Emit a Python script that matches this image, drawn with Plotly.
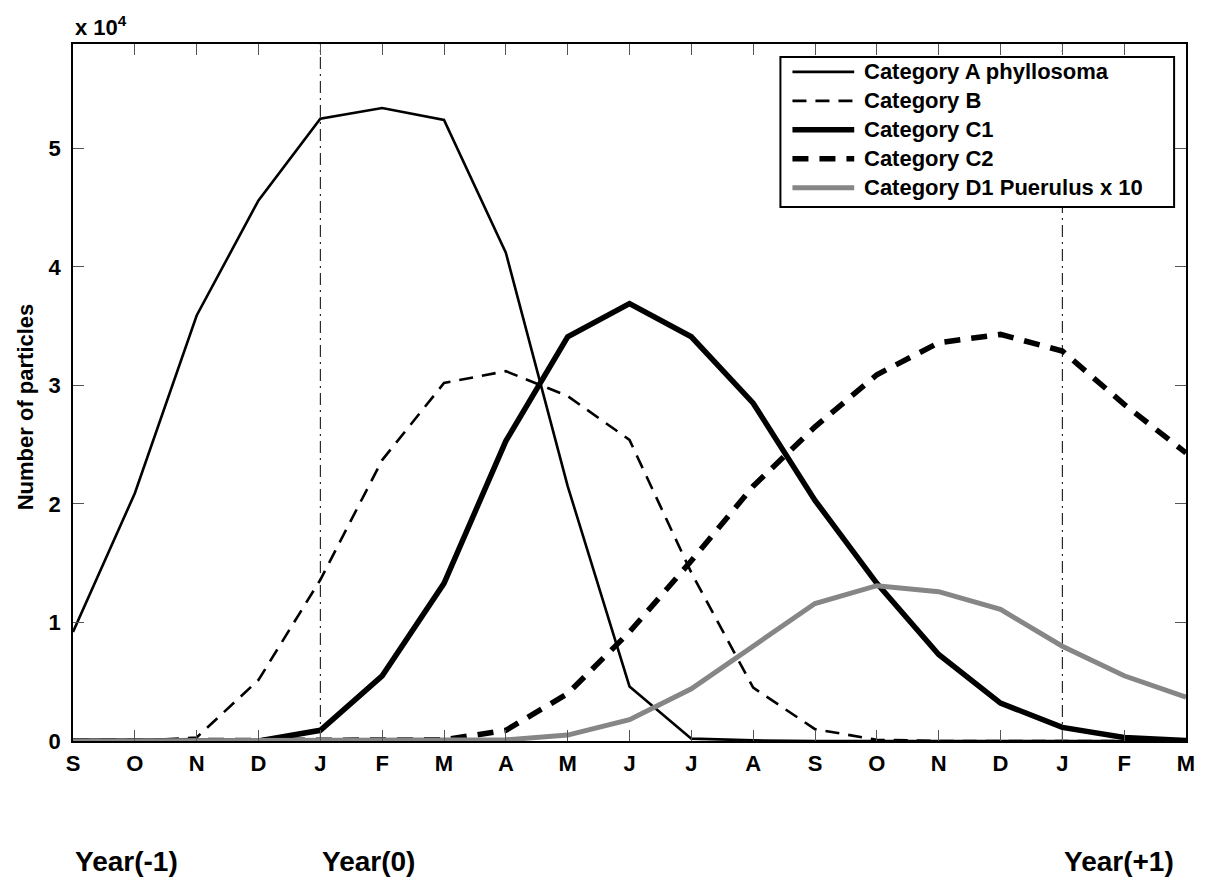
import plotly.graph_objects as go

# Month labels along the x axis (Sep of Year(-1) through Mar of Year(+1))
months = ["S", "O", "N", "D", "J", "F", "M", "A", "M", "J",
          "J", "A", "S", "O", "N", "D", "J", "F", "M"]

# Number of particles, in units of 10^4
cat_a = [0.92, 2.09, 3.59, 4.56, 5.25, 5.34, 5.24, 4.12, 2.15, 0.46,
         0.02, 0.005, 0, 0, 0, 0, 0, 0, 0]
cat_b = [0, 0, 0.03, 0.515, 1.36, 2.37, 3.02, 3.12, 2.91, 2.54,
         1.42, 0.45, 0.10, 0.01, 0, 0, 0, 0, 0]
cat_c1 = [0, 0, 0, 0, 0.09, 0.55, 1.33, 2.53, 3.41, 3.69,
          3.41, 2.85, 2.03, 1.33, 0.73, 0.32, 0.115, 0.03, 0.005]
cat_c2 = [0, 0, 0, 0, 0, 0, 0.01, 0.09, 0.40, 0.92,
          1.52, 2.15, 2.65, 3.09, 3.36, 3.43, 3.29, 2.84, 2.43]
cat_d1 = [0, 0, 0, 0, 0, 0, 0, 0.01, 0.05, 0.18,
          0.44, 0.80, 1.16, 1.31, 1.26, 1.11, 0.80, 0.55, 0.37]

series_names = ["Category A phyllosoma", "Category B", "Category C1",
                "Category C2", "Category D1 Puerulus x 10"]

# Year boundaries (January positions) and the year captions
year_labels = ["Year(-1)", "Year(0)", "Year(+1)"]
year_positions = [0, 4, 16]
january_lines = [4, 16]

y_ticks = [0, 1, 2, 3, 4, 5]

FONT = "Liberation Sans, Arial, sans-serif"

x = list(range(len(months)))
styles = [
    dict(color="black", width=2.6, dash="solid"),
    dict(color="black", width=2.6, dash="14px,9px"),
    dict(color="black", width=5.5, dash="solid"),
    dict(color="black", width=5.5, dash="16px,11px"),
    dict(color="#868686", width=5, dash="solid"),
]
data = [cat_a, cat_b, cat_c1, cat_c2, cat_d1]

fig = go.Figure()
for name, ys, st in zip(series_names, data, styles):
    fig.add_trace(go.Scatter(x=x, y=ys, mode="lines", name=name,
                             line=st, showlegend=False))

shapes = []
for xv in january_lines:
    shapes.append(dict(type="line", xref="x", yref="paper", x0=xv, x1=xv,
                       y0=0, y1=1, line=dict(color="black", width=1,
                                             dash="12px,5px,2px,5px"),
                       layer="below"))

annotations = []

# Legend box drawn in paper coordinates
lg_x0, lg_x1 = 0.6356, 0.9893
lg_y0, lg_y1 = 0.7662, 0.9813
shapes.append(dict(type="rect", xref="paper", yref="paper",
                   x0=lg_x0, x1=lg_x1, y0=lg_y0, y1=lg_y1,
                   line=dict(color="black", width=2), fillcolor="white",
                   layer="above"))
row_top = 0.960
row_step = 0.0416
for i, (name, st) in enumerate(zip(series_names, styles)):
    yy = row_top - i * row_step
    shapes.append(dict(type="line", xref="paper", yref="paper",
                       x0=0.6464, x1=0.7019, y0=yy, y1=yy,
                       line=st, layer="above"))
    annotations.append(dict(xref="paper", yref="paper", x=0.7085, y=yy,
                            text=name, showarrow=False, xanchor="left",
                            yanchor="middle",
                            font=dict(family=FONT, size=22, color="black",
                                      weight="bold")))

# Exponent label above the y axis
annotations.append(dict(xref="paper", yref="paper", x=0.0, y=1.026,
                        text="x 10<sup>4</sup>", showarrow=False,
                        xanchor="left", yanchor="middle",
                        font=dict(family=FONT, size=22, color="black",
                                  weight="bold")))

# Y axis title
annotations.append(dict(xref="paper", yref="paper", x=-0.043, y=0.479,
                        text="Number of particles", showarrow=False,
                        textangle=-90, xanchor="center", yanchor="middle",
                        font=dict(family=FONT, size=22, color="black",
                                  weight="bold")))

# Year captions below the month axis
for lab, xv in zip(year_labels, year_positions):
    annotations.append(dict(xref="x", yref="paper", x=xv, y=-0.1736,
                            text=lab, showarrow=False, xanchor="left",
                            yanchor="middle",
                            font=dict(family=FONT, size=28, color="black",
                                      weight="bold")))

axis_common = dict(
    showgrid=False, zeroline=False, showline=True, linecolor="black",
    linewidth=1.5, mirror="ticks", ticks="inside", ticklen=11,
    tickwidth=1, tickcolor="#555555",
    tickfont=dict(family=FONT, size=22, color="black", weight="bold"),
)

fig.update_layout(
    width=1207, height=879,
    margin=dict(l=73, r=17, t=44, b=138),
    paper_bgcolor="white", plot_bgcolor="white",
    xaxis=dict(range=[0, len(months) - 1], tickvals=x, ticktext=months,
               ticklabelstandoff=2, **axis_common),
    yaxis=dict(range=[0, 5.88], tickvals=y_ticks,
               ticktext=[str(v) for v in y_ticks],
               ticklabelstandoff=6, **axis_common),
    shapes=shapes,
    annotations=annotations,
    showlegend=False,
)

fig.write_html("out.html")
